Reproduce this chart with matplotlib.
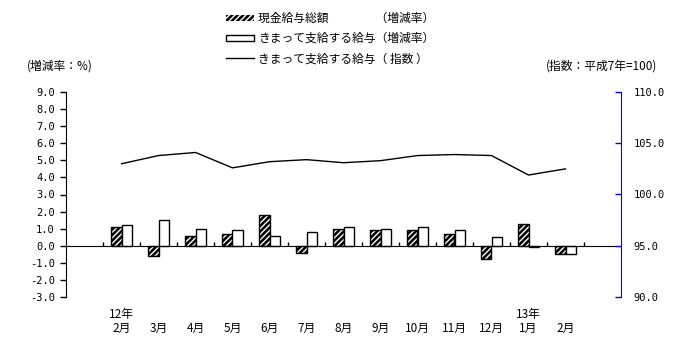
import matplotlib
matplotlib.use('Agg')
import matplotlib.pyplot as plt
import numpy as np
from matplotlib.patches import Patch
from matplotlib.lines import Line2D

plt.rcParams['font.family'] = ['Noto Sans CJK JP', 'DejaVu Sans']
plt.rcParams['hatch.linewidth'] = 1.0

# data
months = ['2月', '3月', '4月', '5月', '6月', '7月', '8月', '9月', '10月', '11月', '12月', '1月', '2月']
years = ['12年', '', '', '', '', '', '', '', '', '', '', '13年', '']
total_rate = [1.1, -0.6, 0.6, 0.7, 1.8, -0.4, 1.0, 0.9, 0.9, 0.7, -0.8, 1.3, -0.5]
regular_rate = [1.2, 1.5, 1.0, 0.9, 0.6, 0.8, 1.1, 1.0, 1.1, 0.9, 0.5, -0.1, -0.5]
regular_index = [103.0, 103.8, 104.1, 102.6, 103.2, 103.4, 103.1, 103.3, 103.8, 103.9, 103.8, 101.9, 102.5]

x = np.arange(1, len(months) + 1)
w = 0.28

fig = plt.figure(figsize=(6.91, 3.59), dpi=100)
ax = fig.add_axes([66 / 691, 1 - 297 / 359, 555 / 691, 205 / 359])

# hatched bars: black with white stripes, black outline
ax.bar(x - w / 2, total_rate, w, color='black', edgecolor='white', hatch='//////', linewidth=0)
ax.bar(x - w / 2, total_rate, w, fill=False, edgecolor='black', linewidth=1)
ax.bar(x + w / 2, regular_rate, w, color='white', edgecolor='black', linewidth=1)

ax.set_xlim(-0.5, 14.5)
ax.set_ylim(-3, 9)
ax.set_yticks(np.arange(-3, 10, 1))
ax.set_yticklabels([f'{v:.1f}' for v in np.arange(-3, 10, 1)], family='DejaVu Sans Mono', fontsize=7.5)
ax.tick_params(axis='y', direction='out', length=4, width=1, pad=4)

ax.spines['top'].set_visible(False)
ax.spines['right'].set_visible(False)
ax.spines['bottom'].set_position(('data', 0))
ax.set_xticks(np.arange(0.5, 14, 1))
ax.set_xticklabels([])
ax.tick_params(axis='x', direction='in', length=3, width=1)

for xi, m, yr in zip(x, months, years):
    ax.text(xi, -0.152, m, transform=ax.get_xaxis_transform(), ha='center', va='center', fontsize=8.5)
    if yr:
        ax.text(xi, -0.083, yr, transform=ax.get_xaxis_transform(), ha='center', va='center', fontsize=8.5)

ax2 = ax.twinx()
ax2.plot(x, regular_index, color='black', linewidth=1)
ax2.set_ylim(90, 110)
ax2.set_yticks(np.arange(90, 111, 5))
ax2.set_yticklabels([f'{v:.1f}' for v in np.arange(90, 111, 5)], family='DejaVu Sans Mono', fontsize=7.5)
ax2.tick_params(axis='y', direction='in', length=4, width=1, color='blue', pad=9)
for s in ['left', 'top', 'bottom']:
    ax2.spines[s].set_visible(False)
ax2.spines['right'].set_color('blue')

fig.text(27 / 691, 1 - 66 / 359, '(増減率：%)', fontsize=8.5, va='center', ha='left')
fig.text(657 / 691, 1 - 66 / 359, '(指数：平成7年=100)', fontsize=8.5, va='center', ha='right')

handles = [
    Patch(facecolor='black', edgecolor='white', hatch='//////', linewidth=0),
    Patch(facecolor='white', edgecolor='black', linewidth=1),
    Line2D([], [], color='black', linewidth=1),
]
labels = ['現金給与総額　　　　（増減率）', 'きまって支給する給与（増減率）', 'きまって支給する給与（ 指数 ）']
fig.legend(handles, labels, loc='upper left', bbox_to_anchor=(226 / 691, 1 - 12 / 359),
           frameon=False, fontsize=8.5, borderpad=0, borderaxespad=0, handlelength=2.4,
           handleheight=0.45, handletextpad=0.3, labelspacing=0.6)

fig.savefig('out.png', dpi=100)
